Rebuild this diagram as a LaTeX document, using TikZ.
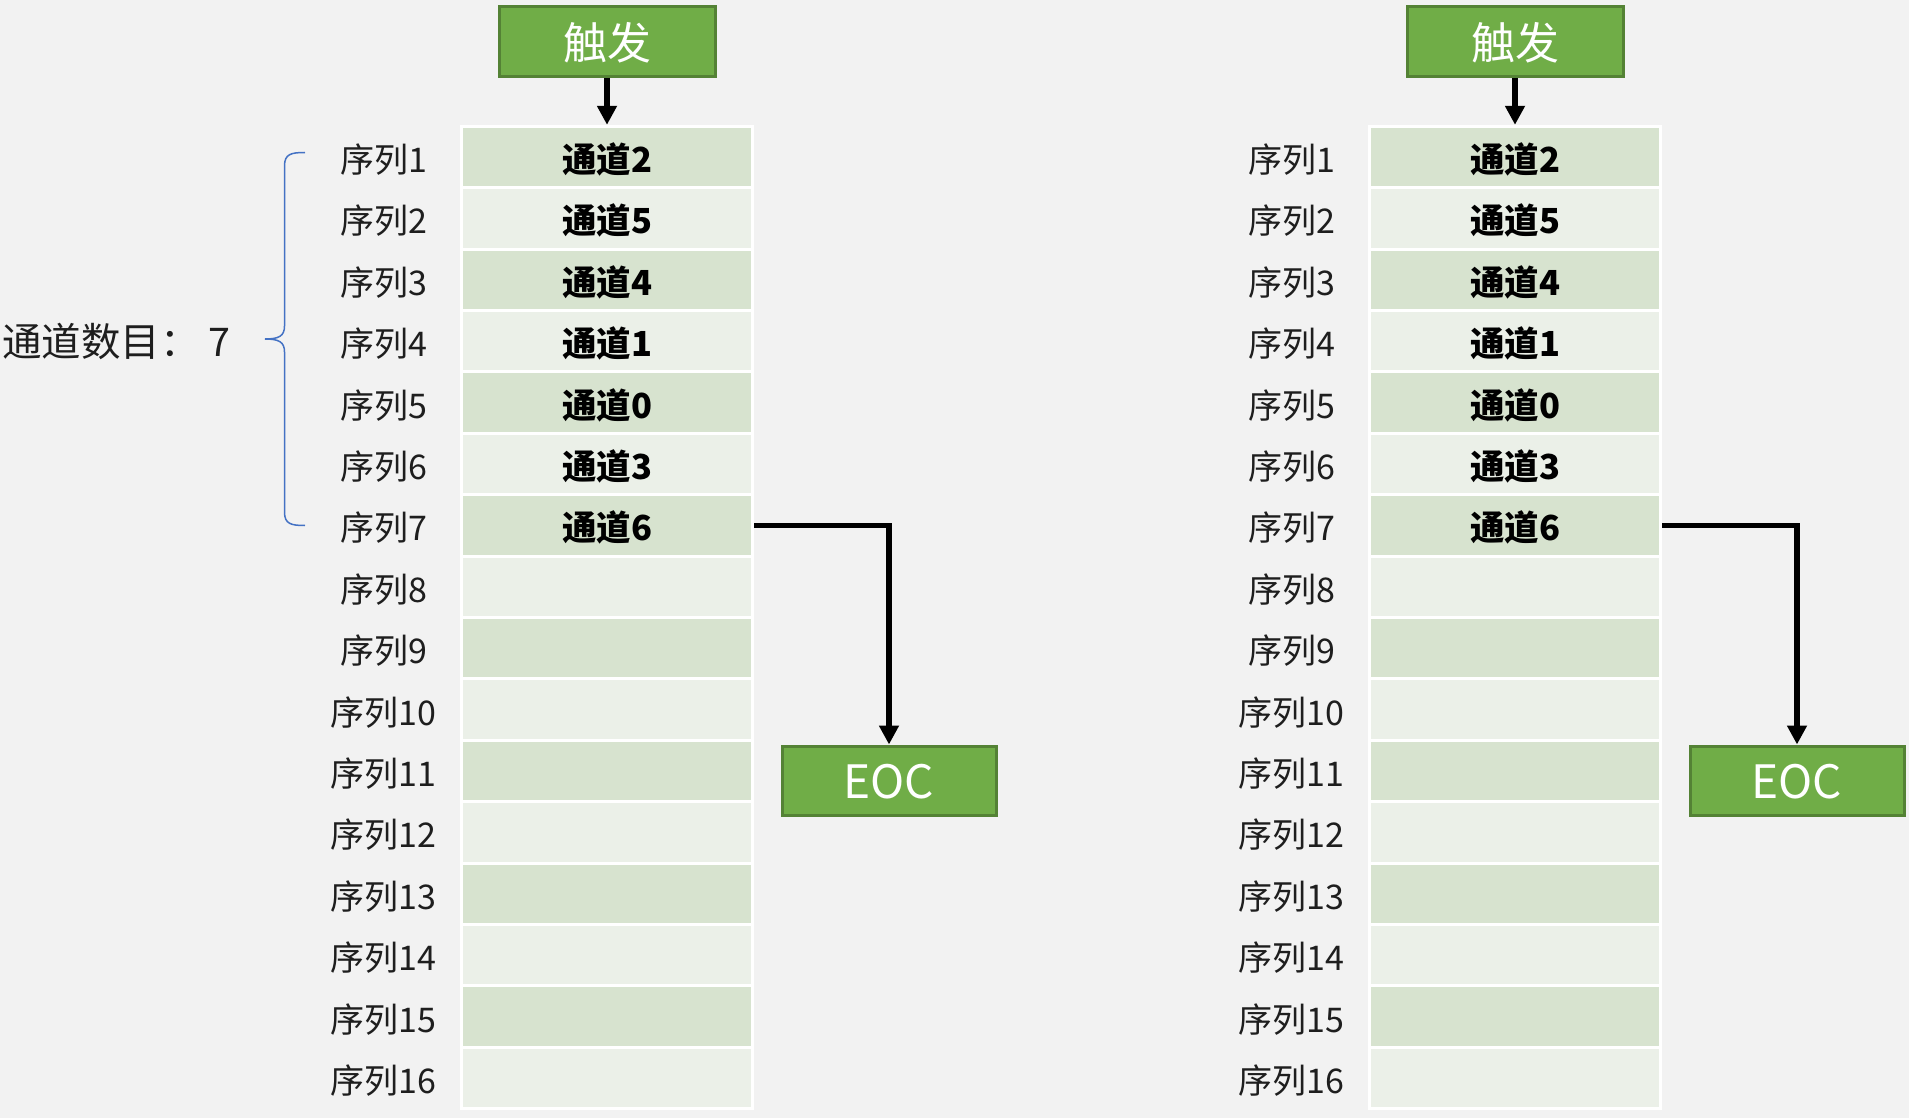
\documentclass[tikz,border=0pt]{standalone}
\usepackage{fontspec}
\setmainfont{Noto Sans CJK SC}
\usetikzlibrary{arrows.meta}
\definecolor{bgc}{HTML}{F2F2F2}
\definecolor{darkrow}{HTML}{D7E3CF}
\definecolor{lightrow}{HTML}{EBF0E8}
\definecolor{boxgreen}{HTML}{70AD47}
\definecolor{boxedge}{HTML}{548235}
\definecolor{bracec}{HTML}{4472C4}
\definecolor{labc}{HTML}{1E1E1E}
\tikzset{
  greenbox/.style={draw=boxedge, fill=boxgreen, line width=3pt, text=white, inner sep=0pt},
  cellbox/.style={draw=white, line width=3pt, minimum width=291.5pt, minimum height=61.4pt, inner sep=0pt},
  chtext/.style={font=\fontsize{34.5}{40}\selectfont\bfseries, text=black, inner sep=0pt},
  rowlab/.style={font=\fontsize{34}{40}\selectfont, text=labc, inner sep=0pt},
  boxtext/.style={text=white, inner sep=0pt},
  conn/.style={line width=5.5pt, -{Triangle[length=19pt,width=19pt]}}
}
\begin{document}
\begin{tikzpicture}[x=1pt,y=-1pt]
\useasboundingbox (0,0) rectangle (1909,1118);
\fill[bgc] (0,0) rectangle (1909,1118);
\foreach \side/\dx in {L/0,R/908}{
  \node[greenbox, minimum width=216pt, minimum height=70pt] (\side-trig) at (607+\dx,41.5) {};
  \node[boxtext, font=\fontsize{44}{50}\selectfont] (\side-trigt) at (607+\dx,43) {触发};
  \foreach \i/\ch in {1/通道2,2/通道5,3/通道4,4/通道1,5/通道0,6/通道3,7/通道6,8/,9/,10/,11/,12/,13/,14/,15/,16/}{
    \pgfmathtruncatemacro{\odd}{mod(\i,2)}
    \ifnum\odd=1 \def\rc{darkrow}\else\def\rc{lightrow}\fi
    \node[cellbox, fill=\rc] (\side-r\i) at (607+\dx,{126.3+61.4*(\i-0.5)}) {};
    \node[chtext] (\side-c\i) at (607+\dx,{126.3+61.4*(\i-0.5)+2.5}) {\ch};
    \node[rowlab] (\side-l\i) at (383.6+\dx,{126.3+61.4*(\i-0.5)+2.5}) {序列\i};
  }
  \node[greenbox, minimum width=214pt, minimum height=69pt] (\side-eoc) at (889+\dx,780.5) {};
  \node[boxtext, font=\fontsize{46}{52}\selectfont] (\side-eoct) at (889+\dx,782) {EOC};
  \draw[conn] (\side-trig.south) -- (\side-r1.north);
  \draw[conn] (\side-r7.east) -| (\side-eoc.north);
}
\node[anchor=west, font=\fontsize{39.5}{46}\selectfont, text=labc, inner sep=0pt] (cnt) at (2,341) {通道数目： 7};
\draw[bracec, line width=1.5pt] (305,152.5) .. controls (291,152.5) and (284.5,154) .. (284.5,166)
  -- (284.5,326) .. controls (284.5,336) and (279,339) .. (265,339)
  .. controls (279,339) and (284.5,342) .. (284.5,352)
  -- (284.5,512) .. controls (284.5,524) and (291,525.5) .. (305,525.5);
\end{tikzpicture}
\end{document}
